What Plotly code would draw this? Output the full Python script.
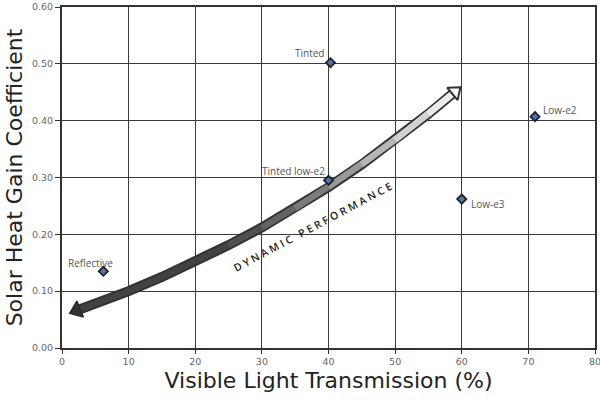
import plotly.graph_objects as go

# ---- data ----
vlt = [40.3, 40.0, 71.0, 60.0, 6.2]            # Visible Light Transmission (%)
shgc = [0.502, 0.295, 0.407, 0.262, 0.135]     # Solar Heat Gain Coefficient
labels = ["Tinted", "Tinted low-e2", "Low-e2", "Low-e3", "Reflective"]

x_ticks = [0, 10, 20, 30, 40, 50, 60, 70, 80]
y_ticks = [0.0, 0.1, 0.2, 0.3, 0.4, 0.5, 0.6]
y_tick_text = ["0.00", "0.10", "0.20", "0.30", "0.40", "0.50", "0.60"]

# "Dynamic performance" arrow path (data coordinates)
arrow_x = [2.2, 6, 10, 15, 20, 25, 30, 35, 40, 45, 50, 55, 59.0]
arrow_y = [0.066, 0.082, 0.100, 0.125, 0.152, 0.181, 0.212, 0.246, 0.283,
           0.323, 0.366, 0.412, 0.451]
arrow_label = "DYNAMIC PERFORMANCE"

# ---- styles ----
FONT = "DejaVu Sans"
LFONT = "Open Sans"
GRID = "#3a3a3a"
label_anchor = ["right", "right", "left", "left", "center"]
label_xshift = [-5, -2, 6, 7, -13]
label_yshift = [10, 9, 7, -5, 8]

fig = go.Figure()

# arrow shaft outline
fig.add_trace(go.Scatter(
    x=arrow_x, y=arrow_y, mode="lines",
    line=dict(color="#333333", width=10),
    hoverinfo="skip", showlegend=False))

# arrow shaft gradient fill (stepped, dark -> light)
stage_start = [0, 5, 6, 7, 8, 9, 10, 11]
stage_color = ["#424242", "#505050", "#636363", "#7c7c7c",
               "#989898", "#b6b6b6", "#d2d2d2", "#ebebeb"]
for s, c in zip(stage_start, stage_color):
    fig.add_trace(go.Scatter(
        x=arrow_x[s:], y=arrow_y[s:], mode="lines",
        line=dict(color=c, width=6),
        hoverinfo="skip", showlegend=False))

# arrow heads
fig.add_trace(go.Scatter(
    x=[arrow_x[0]], y=[arrow_y[0]], mode="markers",
    marker=dict(symbol="triangle-up", size=15, angle=248, color="#333333",
                line=dict(color="#2a2a2a", width=1.5)),
    hoverinfo="skip", showlegend=False))
fig.add_trace(go.Scatter(
    x=[arrow_x[-1]], y=[arrow_y[-1]], mode="markers",
    marker=dict(symbol="triangle-up", size=14, angle=50, color="#ffffff",
                line=dict(color="#333333", width=2)),
    hoverinfo="skip", showlegend=False))

# data points
fig.add_trace(go.Scatter(
    x=vlt, y=shgc, mode="markers",
    marker=dict(symbol="diamond", size=7, color="#4a74b4",
                line=dict(color="#222222", width=1.8)),
    showlegend=False))

for x, y, t, a, xs, ys in zip(vlt, shgc, labels, label_anchor, label_xshift, label_yshift):
    fig.add_annotation(x=x, y=y, text=t, showarrow=False, xanchor=a,
                       yanchor="middle", xshift=xs, yshift=ys,
                       font=dict(family=LFONT, size=10, color="#555555"))

# arrow label (letter-spaced)
spaced = "   ".join(" ".join(list(w)) for w in arrow_label.split(" "))
fig.add_annotation(x=37.6, y=0.213, text=spaced,
                   showarrow=False, textangle=-28,
                   font=dict(family=LFONT, size=10.5, color="#222222", weight=600))

fig.update_xaxes(
    range=[0, 80], tickvals=x_ticks, ticks="outside", ticklen=4, tickcolor="#333",
    showgrid=True, gridcolor=GRID, gridwidth=1.4, zeroline=False,
    showline=True, linecolor="#333", linewidth=2, mirror=True,
    automargin=False, ticklabeloverflow="allow",
    tickfont=dict(family=FONT, size=9.5, color="#666"),
    title=dict(text="Visible Light Transmission (%)", standoff=6,
               font=dict(family=FONT, size=22, color="#222")))
fig.update_yaxes(
    range=[0, 0.6], tickvals=y_ticks, ticktext=y_tick_text, ticks="outside",
    ticklen=5, tickcolor="#333",
    showgrid=True, gridcolor=GRID, gridwidth=1.4, zeroline=False,
    showline=True, linecolor="#333", linewidth=2, mirror=True,
    automargin=False, ticklabeloverflow="allow",
    tickfont=dict(family=FONT, size=9.5, color="#666"),
    title=dict(text="Solar Heat Gain Coefficient", standoff=3,
               font=dict(family=FONT, size=22, color="#222")))

fig.update_layout(
    width=600, height=405,
    margin=dict(l=62, r=5, t=7, b=57),
    plot_bgcolor="white", paper_bgcolor="white",
    font=dict(family=FONT))

fig.write_html("out.html")
